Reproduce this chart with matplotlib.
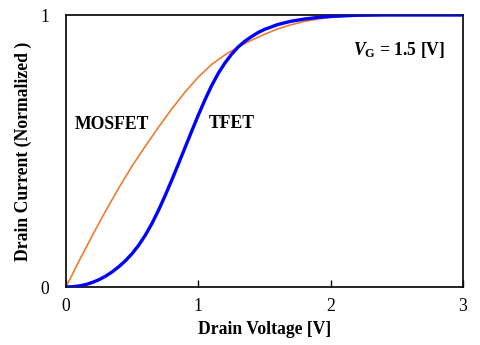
import matplotlib
matplotlib.use("Agg")
import matplotlib.pyplot as plt

plt.rcParams['font.family'] = ['Liberation Serif', 'DejaVu Serif']
plt.rcParams['mathtext.fontset'] = 'custom'
plt.rcParams['mathtext.rm'] = 'Liberation Serif:bold'
plt.rcParams['mathtext.it'] = 'Liberation Serif:bold:italic'
plt.rcParams['mathtext.bf'] = 'Liberation Serif:bold'

# Data
mos_x = [0.0, 0.1, 0.2, 0.3, 0.4, 0.5, 0.6, 0.7, 0.8, 0.9, 1.0, 1.1, 1.2, 1.3, 1.4,
         1.5, 1.6, 1.7, 1.8, 1.9, 2.0, 2.1, 2.2, 2.4, 2.6, 3.0]
mos_y = [0.0, 0.097, 0.19, 0.28, 0.365, 0.445, 0.518, 0.588, 0.655, 0.717, 0.772, 0.818,
         0.853, 0.882, 0.907, 0.929, 0.949, 0.964, 0.976, 0.985, 0.991, 0.995, 0.998,
         1.0, 1.0, 1.0]
tfet_x = [0.0, 0.05, 0.1, 0.15, 0.2, 0.25, 0.3, 0.35, 0.4, 0.45, 0.5, 0.55, 0.6, 0.65,
          0.7, 0.75, 0.8, 0.85, 0.9, 0.95, 1.0, 1.05, 1.1, 1.15, 1.2, 1.25, 1.3, 1.35,
          1.4, 1.45, 1.5, 1.6, 1.7, 1.8, 1.9, 2.0, 2.1, 2.2, 2.4, 3.0]
tfet_y = [0.0, 0.001, 0.004, 0.009, 0.017, 0.027, 0.04, 0.056, 0.075, 0.097, 0.123,
          0.154, 0.191, 0.234, 0.283, 0.337, 0.394, 0.453, 0.513, 0.573, 0.632, 0.688,
          0.74, 0.785, 0.823, 0.855, 0.882, 0.903, 0.92, 0.935, 0.947, 0.965, 0.977,
          0.985, 0.991, 0.995, 0.997, 0.999, 1.0, 1.0]
x_ticks = [0, 1, 2, 3]
y_ticks = [0, 1]

fig = plt.figure(figsize=(4.8, 3.45), dpi=100)
ax = fig.add_axes([66/480, 58/345, 397/480, 272/345])

ax.plot(mos_x, mos_y, color='#ED7D31', lw=1.2, zorder=2)
ax.plot(tfet_x, tfet_y, color='#0000FF', lw=2.4, zorder=3, solid_joinstyle='round')

ax.set_xlim(0, 3)
ax.set_ylim(0, 1)
ax.set_xticks(x_ticks)
ax.set_yticks(y_ticks)
ax.tick_params(axis='x', direction='in', length=5, width=1, pad=8, labelsize=12.7)
ax.tick_params(axis='y', length=0, pad=12, labelsize=12.7)
for s in ax.spines.values():
    s.set_linewidth(1.2)

ax.set_xlabel('Drain Voltage [V]', fontsize=12.7, fontweight='bold', labelpad=4)
ax.set_ylabel('Drain Current (Normalized )', fontsize=12.7, fontweight='bold', labelpad=6)

ax.text(0.35, 0.596, 'MOSFET', fontsize=12.7, fontweight='bold', ha='center', va='center')
ax.text(1.25, 0.60, 'TFET', fontsize=12.7, fontweight='bold', ha='center', va='center')
ax.text(2.52, 0.873, r'$V_{\mathrm{G}}$ = 1.5 [V]', fontsize=12.7, fontweight='bold',
        ha='center', va='center')

fig.savefig('out.png', dpi=100)
